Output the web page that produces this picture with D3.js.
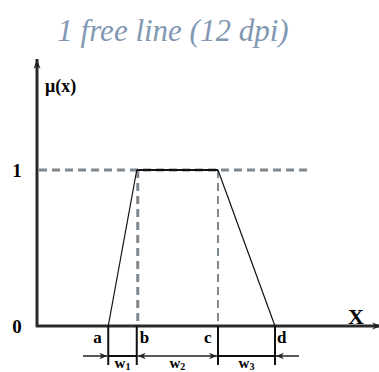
<!DOCTYPE html>
<html>
<head>
<meta charset="utf-8">
<script src="https://cdn.jsdelivr.net/npm/d3@7"></script>
<style>
  body { margin: 0; background: #fff; }
  text { font-family: 'Liberation Serif', 'DejaVu Serif', serif; }
</style>
</head>
<body>
<svg id="chart" width="379" height="372"></svg>
<script>
// membership breakpoints a, b, c, d and their memberships
var breakNames = ['a', 'b', 'c', 'd'];
var breakValues = [2.5, 3.5, 6.35, 8.35];
var breakMembership = [0, 1, 1, 0];
var widthNames = ['w1', 'w2', 'w3'];
var yTickValues = [0, 1];
var title = '1 free line (12 dpi)';

var svg = d3.select('#chart');
var x = d3.scaleLinear().domain([0, 12]).range([37, 379]);
var y = d3.scaleLinear().domain([0, 1]).range([326, 170]);
var gray = '#7f878f';

svg.append('text')
  .attr('x', 173).attr('y', 41)
  .attr('text-anchor', 'middle')
  .style('font-style', 'italic')
  .style('font-size', '31px')
  .style('fill', '#8197b2')
  .text(title);

var defs = svg.append('defs');
defs.append('marker').attr('id', 'head')
  .attr('viewBox', '0 0 10 10').attr('refX', 10).attr('refY', 5)
  .attr('markerWidth', 10).attr('markerHeight', 10)
  .attr('markerUnits', 'userSpaceOnUse')
  .attr('orient', 'auto-start-reverse')
  .append('path').attr('d', 'M0,1.5 L10,5 L0,8.5 L3,5 Z').attr('fill', '#222');
defs.append('marker').attr('id', 'small')
  .attr('viewBox', '0 0 10 10').attr('refX', 10).attr('refY', 5)
  .attr('markerWidth', 9).attr('markerHeight', 8)
  .attr('markerUnits', 'userSpaceOnUse')
  .attr('orient', 'auto-start-reverse')
  .append('path').attr('d', 'M0,1 L10,5 L0,9 L3,5 Z').attr('fill', '#222');

// dashed guides
svg.append('line')
  .attr('x1', x(0) + 2).attr('x2', x(9.6))
  .attr('y1', y(1)).attr('y2', y(1))
  .attr('stroke', gray).attr('stroke-width', 3).attr('stroke-dasharray', '8,5');
svg.selectAll('.vguide').data([1, 2]).enter().append('line')
  .attr('class', 'vguide')
  .attr('x1', function(i) { return x(breakValues[i]) + (i === 1 ? 1 : 0); })
  .attr('x2', function(i) { return x(breakValues[i]) + (i === 1 ? 1 : 0); })
  .attr('y1', y(1)).attr('y2', y(0))
  .attr('stroke', gray)
  .attr('stroke-width', function(i) { return i === 1 ? 3 : 2; })
  .attr('stroke-dasharray', '8,5');

// axes
svg.append('line')
  .attr('x1', x(0)).attr('x2', x(0))
  .attr('y1', y(0) + 1).attr('y2', 59)
  .attr('stroke', '#2a2a2a').attr('stroke-width', 3)
  .attr('marker-end', 'url(#head)');
svg.append('line')
  .attr('x1', x(0) - 1).attr('x2', 382)
  .attr('y1', y(0)).attr('y2', y(0))
  .attr('stroke', '#2a2a2a').attr('stroke-width', 3)
  .attr('marker-end', 'url(#head)');

// trapezoid
var pts = breakValues.map(function(v, i) { return [x(v), y(breakMembership[i])]; });
svg.append('path')
  .attr('d', d3.line()(pts.slice(0, 2)))
  .attr('fill', 'none').attr('stroke', '#111').attr('stroke-width', 1.2);
svg.append('path')
  .attr('d', d3.line()(pts.slice(1, 3)))
  .attr('fill', 'none').attr('stroke', '#111').attr('stroke-width', 2);
svg.append('path')
  .attr('d', d3.line()(pts.slice(2, 4)))
  .attr('fill', 'none').attr('stroke', '#111').attr('stroke-width', 1.2);

// tick labels
svg.selectAll('.ytick').data(yTickValues).enter().append('text')
  .attr('x', 17).attr('y', function(d) { return y(d) + 7; })
  .attr('text-anchor', 'middle')
  .style('font-weight', 'bold').style('font-size', '19px')
  .text(function(d) { return d; });

svg.append('text').attr('x', 45).attr('y', 92)
  .style('font-weight', 'bold').style('font-size', '18px').text('μ(x)');
svg.append('text').attr('x', 348).attr('y', 324)
  .style('font-weight', 'bold').style('font-size', '22px').text('X');

// breakpoint ticks below the axis
svg.selectAll('.btick').data(breakValues).enter().append('line')
  .attr('x1', function(d) { return x(d); }).attr('x2', function(d) { return x(d); })
  .attr('y1', y(0)).attr('y2', 365)
  .attr('stroke', '#111').attr('stroke-width', 2);

var labelDx = [-15, 3, -14, 2];
svg.selectAll('.blabel').data(breakNames).enter().append('text')
  .attr('x', function(d, i) { return x(breakValues[i]) + labelDx[i]; })
  .attr('y', 343)
  .style('font-weight', 'bold').style('font-size', '17px')
  .text(function(d) { return d; });

// width arrows
var ay = 356;
svg.append('line').attr('x1', 83).attr('x2', x(breakValues[0]) - 1)
  .attr('y1', ay).attr('y2', ay)
  .attr('stroke', '#222').attr('stroke-width', 1.5).attr('marker-end', 'url(#small)');
svg.append('line').attr('x1', x(breakValues[0])).attr('x2', x(breakValues[1]))
  .attr('y1', ay).attr('y2', ay).attr('stroke', '#111').attr('stroke-width', 2);
svg.append('line').attr('x1', x(breakValues[1]) + 1).attr('x2', x(breakValues[2]) - 1)
  .attr('y1', ay).attr('y2', ay)
  .attr('stroke', '#222').attr('stroke-width', 1.5)
  .attr('marker-start', 'url(#small)').attr('marker-end', 'url(#small)');
svg.append('line').attr('x1', x(breakValues[2])).attr('x2', x(breakValues[3]))
  .attr('y1', ay).attr('y2', ay).attr('stroke', '#111').attr('stroke-width', 2);
svg.append('line').attr('x1', 299).attr('x2', x(breakValues[3]) + 1)
  .attr('y1', ay).attr('y2', ay)
  .attr('stroke', '#222').attr('stroke-width', 1.5).attr('marker-end', 'url(#small)');

var wLabels = svg.selectAll('.wlabel').data(widthNames).enter().append('text')
  .attr('x', function(d, i) { return (x(breakValues[i]) + x(breakValues[i + 1])) / 2; })
  .attr('y', 368)
  .attr('text-anchor', 'middle')
  .style('font-weight', 'bold').style('font-size', '15px');
wLabels.append('tspan').text('w');
wLabels.append('tspan').attr('dy', 2).style('font-size', '10px')
  .text(function(d) { return d.slice(1); });
</script>
</body>
</html>
